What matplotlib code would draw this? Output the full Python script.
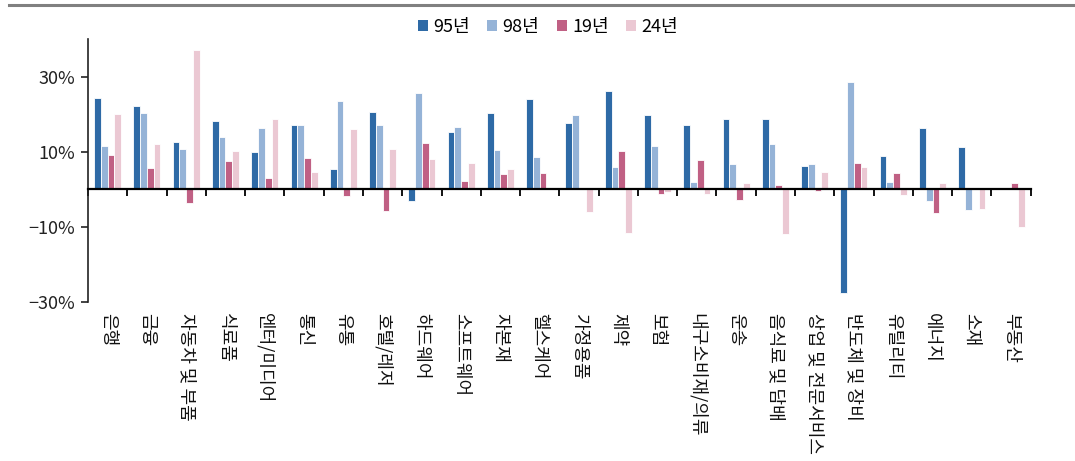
import numpy as np
import matplotlib
matplotlib.use("Agg")
import matplotlib.pyplot as plt
from matplotlib.lines import Line2D
from matplotlib.patches import Patch
import matplotlib.transforms as mtransforms

plt.rcParams['font.family'] = ['Noto Sans CJK KR', 'DejaVu Sans']
plt.rcParams['axes.unicode_minus'] = True

categories = ["은행", "금융", "자동차 및 부품", "식료품", "엔터/미디어", "통신", "유통",
              "호텔/레저", "하드웨어", "소프트웨어", "자본재", "헬스케어", "가정용품", "제약",
              "보험", "내구소비재/의류", "운송", "음식료 및 담배", "상업 및 전문서비스",
              "반도체 및 장비", "유틸리티", "에너지", "소재", "부동산"]

series_names = ["95년", "98년", "19년", "24년"]
y95 = [24.3, 22.2, 12.6, 18.3, 10.0, 17.2, 5.3, 20.7, -3.1, 15.2, 20.4, 24.0,
       17.7, 26.2, 19.7, 17.2, 18.6, 18.7, 6.2, -27.7, 8.9, 16.3, 11.3, 0.0]
y98 = [11.6, 20.3, 10.8, 14.0, 16.3, 17.0, 23.5, 17.1, 25.5, 16.6, 10.4, 8.7,
       19.8, 6.0, 11.6, 2.0, 6.8, 12.1, 6.6, 28.5, 2.0, -3.2, -5.5, 0.0]
y19 = [9.0, 5.6, -3.7, 7.6, 2.9, 8.3, -1.7, -5.7, 12.4, 2.2, 4.1, 4.4,
       0.3, 10.2, -1.2, 7.7, -2.9, 1.2, -0.4, 7.0, 4.4, -6.3, 0.4, 1.7]
y24 = [20.0, 12.0, 37.2, 10.3, 18.7, 4.6, 16.1, 10.8, 8.0, 6.9, 5.4, 0.0,
       -6.1, -11.6, -0.6, -1.2, 1.7, -11.9, 4.6, 6.0, -1.5, 1.8, -5.2, -10.0]

yticks = [30, 10, -10, -30]
ytick_labels = ["30%", "10%", "−10%", "−30%"]

colors = ["#2E6AA6", "#95B3D7", "#C06084", "#EBC8D3"]

fig = plt.figure(figsize=(10.75, 4.61), dpi=100)
ax = fig.add_axes([88 / 1075, 1 - 302 / 461, (1030.7 - 88) / 1075, (302 - 39) / 461])

x = np.arange(len(categories))
bw = 0.172
offsets = np.array([-1.5, -0.5, 0.5, 1.5]) * bw
for vals, c, off, name in zip([y95, y98, y19, y24], colors, offsets, series_names):
    ax.bar(x + off, vals, width=bw, color=c, edgecolor="white", linewidth=0.6, label=name, zorder=2)

ax.set_xlim(-0.5, len(categories) - 0.5)
ax.set_ylim(-30, 40)

# zero baseline carries the category boundary ticks
ax.spines['bottom'].set_position(('data', 0))
ax.spines['bottom'].set_linewidth(1.6)
ax.spines['bottom'].set_zorder(3)
ax.spines['top'].set_visible(False)
ax.spines['right'].set_visible(False)
ax.spines['left'].set_linewidth(1.2)
ax.spines['left'].set_color("#222222")

ax.set_xticks(x)
ax.set_xticklabels([])
ax.set_xticks(np.arange(len(categories) + 1) - 0.5, minor=True)
ax.tick_params(axis='x', which='major', length=0)
ax.tick_params(axis='x', which='minor', length=5, width=1.3, direction='out', color="black")

ax.set_yticks(yticks)
ax.set_yticklabels(ytick_labels, fontsize=13, color="#222222")
ax.tick_params(axis='y', length=5, width=1.2, direction='out', pad=4, color="#222222")

# category names below the plotting area
trans = mtransforms.blended_transform_factory(ax.transData, ax.transAxes)
for xi, name in zip(x, categories):
    ax.text(xi, -0.04, name, transform=trans, rotation=270, ha='center', va='top',
            fontsize=13, color="#111111", rotation_mode='default')

# rule across the top of the figure
fig.add_artist(Line2D([9 / 1075, 1.0], [1 - 5 / 461, 1 - 5 / 461], color="#808080", linewidth=2.2))

handles = [Patch(facecolor=c, edgecolor='none') for c in colors]
fig.legend(handles, series_names, loc='center', bbox_to_anchor=(548 / 1075, 1 - 27 / 461),
           ncol=4, frameon=False, fontsize=13, handlelength=0.55, handleheight=0.55,
           handletextpad=0.3, columnspacing=0.95, borderaxespad=0)

fig.savefig("out.png", dpi=100)
